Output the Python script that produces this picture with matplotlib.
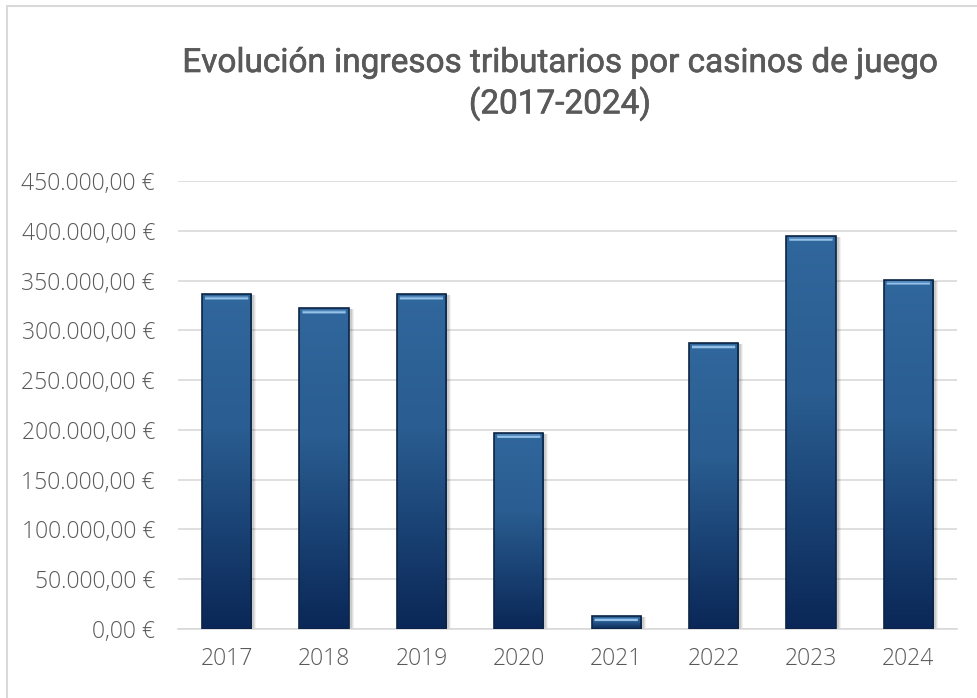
import matplotlib.pyplot as plt
import matplotlib.patheffects as pe
import numpy as np
from matplotlib.colors import LinearSegmentedColormap
from matplotlib.patches import Rectangle, FancyBboxPatch
from matplotlib.ticker import FuncFormatter, MultipleLocator

years = ['2017', '2018', '2019', '2020', '2021', '2022', '2023', '2024']
ingresos = [336000, 322000, 336000, 197000, 13000, 287000, 395000, 351000]

title = 'Evolución ingresos tributarios por casinos de juego\n(2017-2024)'
grey_txt = '#595959'
grid_col = '#D9D9D9'

# vertical fill for each column: lighter blue on top, navy at the base
bar_cmap = LinearSegmentedColormap.from_list(
    'col', [(0.0, '#0A2757'), (0.6, '#2A5D91'), (1.0, '#30679C')])


def euro(v, pos=None):
    s = f'{v:,.2f}'.replace(',', 'X').replace('.', ',').replace('X', '.')
    return s + ' €'


fig = plt.figure(figsize=(9.78, 6.98), dpi=100)
ax = fig.add_axes([178 / 978, 69 / 698, 779 / 978, 448 / 698])

x = np.arange(len(years))
bars = ax.bar(x, ingresos, width=0.506, color='none', edgecolor='none', zorder=3)

ax.set_xlim(-0.5, len(years) - 0.5)
ax.set_ylim(0, 450000)

# size of one pixel in data units
px_x = (len(years)) / 779
px_y = 450000 / 448

grad = np.linspace(0, 1, 256).reshape(-1, 1)
for b in bars:
    x0, w, h = b.get_x(), b.get_width(), b.get_height()
    # soft drop shadow
    for k, a in [(4, 0.05), (3, 0.07), (2, 0.09)]:
        ax.add_patch(Rectangle((x0 + px_x * 1, -px_y * k), w + px_x * k, h + px_y * (k - 1),
                               facecolor='black', alpha=a, edgecolor='none', zorder=2))
    im = ax.imshow(grad, cmap=bar_cmap, aspect='auto', origin='lower',
                   extent=(x0, x0 + w, 0, h), zorder=3, interpolation='bilinear')
    im.set_clip_path(b)
    # dark rim
    ax.add_patch(Rectangle((x0, 0), w, h, facecolor='none', edgecolor='#0C2445',
                           linewidth=1.2, zorder=4))
    # light bevel along the top edge
    ax.add_patch(FancyBboxPatch((x0 + px_x * 3, h - px_y * 5), w - px_x * 6, px_y * 2.2,
                                boxstyle='round,pad=0', facecolor='#9CC8EE',
                                edgecolor='none', alpha=0.95, zorder=5))
    ax.add_patch(Rectangle((x0 + px_x * 3, h - px_y * 3), w - px_x * 6, px_y * 1.5,
                           facecolor='#5A8FC4', edgecolor='none', alpha=0.8, zorder=5))

ax.yaxis.set_major_locator(MultipleLocator(50000))
ax.yaxis.set_major_formatter(FuncFormatter(euro))
ax.set_xticks(x)
ax.set_xticklabels(years)
ax.grid(axis='y', color=grid_col, linewidth=1.2, zorder=0)
ax.set_axisbelow(True)
for side in ['top', 'right', 'left']:
    ax.spines[side].set_visible(False)
ax.spines['bottom'].set_color(grid_col)
ax.spines['bottom'].set_linewidth(1.2)
ax.tick_params(axis='both', length=0, colors=grey_txt, labelsize=16.5)
ax.tick_params(axis='y', pad=16.5)
ax.tick_params(axis='x', pad=13)
for lab in ax.get_xticklabels() + ax.get_yticklabels():
    lab.set_fontfamily('Open Sans')
    lab.set_fontweight('light')
    lab.set_color(grey_txt)

fig.text(560 / 978, 1 - 47 / 698, title, ha='center', va='top', fontsize=24,
         family='Roboto', color=grey_txt, linespacing=1.28,
         path_effects=[pe.withStroke(linewidth=0.45, foreground=grey_txt)])

# chart frame
fig.patches.append(Rectangle((7 / 978, -0.05), 1.2, 1 - 6 / 698 + 0.05,
                             transform=fig.transFigure, facecolor='none',
                             edgecolor=grid_col, linewidth=1.5, zorder=-1))

fig.savefig('out.png', dpi=100)
